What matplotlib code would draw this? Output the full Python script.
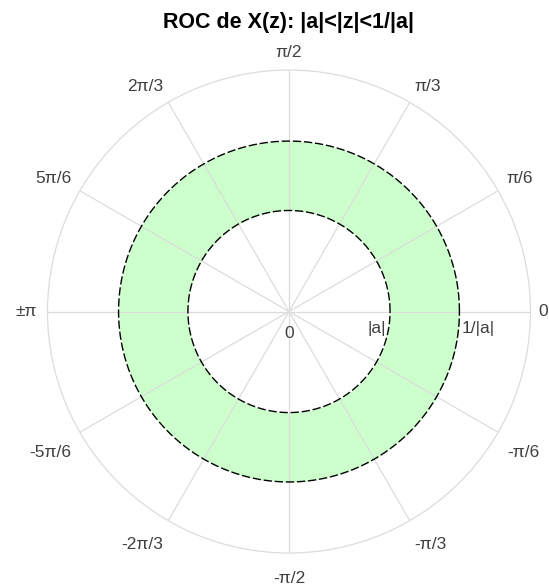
import numpy as np
import matplotlib
matplotlib.use("Agg")
import matplotlib.pyplot as plt

plt.rcParams['font.family'] = ['Liberation Sans', 'DejaVu Sans']

# Data
a_mag = 0.77                     # |a|
r_inner = a_mag                  # |a|
r_outer = 1.0 / a_mag            # 1/|a|
r_max = 1.84
theta_ticks_deg = [0, 30, 60, 90, 120, 150, 180, 210, 240, 270, 300, 330]
theta_labels = ['0', 'π/6', 'π/3', 'π/2', '2π/3', '5π/6', '±π',
                '-5π/6', '-2π/3', '-π/2', '-π/3', '-π/6']
r_tick_vals = [0, r_inner, r_outer]
r_tick_labels = ['0', '|a|', '1/|a|']
title = 'ROC de X(z): |a|<|z|<1/|a|'

fig = plt.figure(figsize=(5.49, 5.87), dpi=100)
ax = fig.add_axes([0.0865, 0.0579, 0.8798, 0.8228], projection='polar')

th = np.linspace(0, 2 * np.pi, 721)
ax.fill_between(th, r_inner, r_outer, color='#ccffcc', linewidth=0, zorder=1)
ax.plot(th, np.full_like(th, r_inner), color='black', lw=1.0, dashes=(6, 2), zorder=3)
ax.plot(th, np.full_like(th, r_outer), color='black', lw=1.0, dashes=(6, 2), zorder=3)

ax.set_ylim(0, r_max)
ax.set_rticks([])
ax.set_thetagrids(theta_ticks_deg, labels=[''] * len(theta_ticks_deg))
ax.grid(True, color='#dcdcdc', lw=0.9, zorder=2)
ax.spines['polar'].set_color('#dcdcdc')
ax.spines['polar'].set_linewidth(0.9)
for gl in ax.xaxis.get_gridlines():
    gl.set_zorder(2)

lab_color = '#404040'
fs = 12.5
for d, lab in zip(theta_ticks_deg, theta_labels):
    t = np.deg2rad(d)
    c, s = np.cos(t), np.sin(t)
    ha = 'left' if c > 0.1 else ('right' if c < -0.1 else 'center')
    va = 'bottom' if s > 0.1 else ('top' if s < -0.1 else 'center')
    off = 8 if abs(s) < 0.1 else 10
    dx = off * c
    dy = off * s
    if s < -0.1:
        dy -= 8
    if c < -0.9:
        dx -= 3
    ax.annotate(lab, xy=(t, r_max), xytext=(dx, dy),
                textcoords='offset pixels', ha=ha, va=va,
                fontsize=fs, color=lab_color, zorder=5, annotation_clip=False)

# radial labels
ax.annotate(r_tick_labels[0], xy=(0, r_tick_vals[0]), xytext=(0, -14),
            textcoords='offset pixels', ha='center', va='top',
            fontsize=fs, color=lab_color)
ax.annotate(r_tick_labels[1], xy=(0, r_tick_vals[1]), xytext=(-4, -9),
            textcoords='offset pixels', ha='right', va='top',
            fontsize=fs, color=lab_color)
ax.annotate(r_tick_labels[2], xy=(0, r_tick_vals[2]), xytext=(2, -9),
            textcoords='offset pixels', ha='left', va='top',
            fontsize=fs, color=lab_color)

fig.text(0.5255, 0.9625, title, ha='center', va='center', fontsize=15.5,
         fontweight='bold', color='black')

fig.savefig('out.png', dpi=100)
